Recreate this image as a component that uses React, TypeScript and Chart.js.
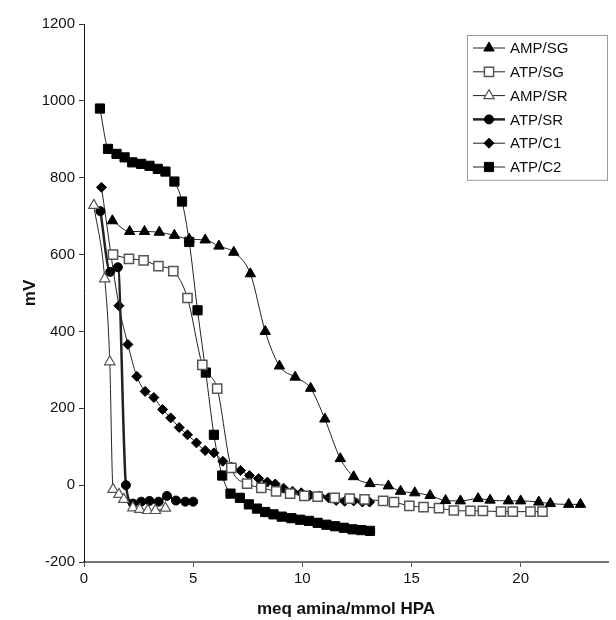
import React, { useEffect, useRef } from "react";
import { Chart, registerables } from "chart.js";

Chart.register(...registerables);

const xAMPSG = [1.3, 2.09, 2.77, 3.45, 4.14, 4.82, 5.55, 6.18, 6.86, 7.62, 8.3, 8.95, 9.67, 10.38, 11.03, 11.74, 12.35, 13.1, 13.94, 14.5, 15.15, 15.85, 16.56, 17.24, 18.05, 18.6, 19.44, 20.0, 20.83, 21.36, 22.2, 22.74];
const yAMPSG = [688, 660, 660, 658, 650, 640, 638, 622, 606, 550, 400, 310, 281, 252, 172, 69, 22, 4, -2, -16, -20, -27, -40, -41, -35, -39, -41, -41, -44, -48, -50, -50];

const xATPSG = [1.33, 2.06, 2.73, 3.41, 4.09, 4.74, 5.42, 6.1, 6.75, 7.47, 8.12, 8.8, 9.44, 10.09, 10.7, 11.48, 12.17, 12.85, 13.7, 14.2, 14.9, 15.55, 16.26, 16.94, 17.7, 18.27, 19.1, 19.64, 20.45, 21.0];
const yATPSG = [600, 589, 585, 570, 557, 487, 313, 251, 45, 4, -7, -16, -22, -28, -30, -33, -35, -37, -41, -44, -54, -57, -60, -66, -67, -67, -69, -69, -69, -69];

const xAMPSR = [0.45, 0.95, 1.18, 1.33, 1.6, 1.82, 2.24, 2.55, 2.92, 3.27, 3.73];
const yAMPSR = [728, 537, 321, -11, -24, -37, -59, -63, -66, -66, -60];

const xATPSR = [0.75, 1.2, 1.55, 1.92, 2.24, 2.62, 3.0, 3.42, 3.8, 4.21, 4.64, 5.0];
const yATPSR = [713, 555, 567, 0, -48, -43, -41, -43, -28, -40, -43, -43];

const xATPC1 = [0.8, 1.6, 2.01, 2.42, 2.8, 3.2, 3.6, 3.97, 4.36, 4.74, 5.15, 5.55, 5.95, 6.36, 6.76, 7.17, 7.58, 8.0, 8.4, 8.76, 9.14, 9.55, 9.95, 10.35, 10.8, 11.2, 11.55, 11.94, 12.35, 12.75, 13.08];
const yATPC1 = [775, 467, 366, 283, 244, 228, 197, 175, 150, 131, 110, 90, 84, 62, 47, 38, 25, 17, 8, 3, -8, -16, -20, -26, -28, -33, -40, -42, -41, -44, -44];

const xATPC2 = [0.73, 1.1, 1.49, 1.86, 2.21, 2.62, 3.0, 3.38, 3.73, 4.14, 4.49, 4.82, 5.2, 5.58, 5.95, 6.33, 6.71, 7.14, 7.55, 7.92, 8.3, 8.68, 9.06, 9.5, 9.9, 10.3, 10.7, 11.1, 11.5, 11.9, 12.3, 12.7, 13.1];
const yATPC2 = [980, 875, 862, 853, 840, 836, 831, 823, 816, 790, 738, 633, 455, 293, 131, 25, -22, -33, -50, -61, -70, -76, -82, -86, -90, -93, -98, -103, -107, -111, -115, -117, -119];

const seriesLabels = ["AMP/SG", "ATP/SG", "AMP/SR", "ATP/SR", "ATP/C1", "ATP/C2"];
const yTicks = [-200, 0, 200, 400, 600, 800, 1000, 1200];
const xTicks = [0, 5, 10, 15, 20];

const FONT = "'Liberation Sans', Arial, sans-serif";

function pts(xs: number[], ys: number[]) {
  return xs.map((x, i) => ({ x, y: ys[i] }));
}

type Marker = { shape: string; fill: string; stroke: string; r: number; lw: number };

const markers: Marker[] = [
  { shape: "triangle", fill: "#000", stroke: "#000", r: 6, lw: 1 },
  { shape: "rect", fill: "#fff", stroke: "#555", r: 6.5, lw: 1.5 },
  { shape: "triangle", fill: "#fff", stroke: "#555", r: 6, lw: 1.2 },
  { shape: "circle", fill: "#000", stroke: "#000", r: 4.5, lw: 1 },
  { shape: "rectRot", fill: "#000", stroke: "#000", r: 5, lw: 1 },
  { shape: "rect", fill: "#000", stroke: "#000", r: 6.5, lw: 1 },
];
const lineWidths = [1, 1, 1, 2.5, 1, 1];

function drawMarker(ctx: CanvasRenderingContext2D, m: Marker, x: number, y: number) {
  ctx.save();
  ctx.beginPath();
  const r = m.r;
  if (m.shape === "triangle") {
    ctx.moveTo(x, y - r);
    ctx.lineTo(x + r * 0.866, y + r * 0.5);
    ctx.lineTo(x - r * 0.866, y + r * 0.5);
    ctx.closePath();
  } else if (m.shape === "rect") {
    const s = r * Math.SQRT1_2;
    ctx.rect(x - s, y - s, 2 * s, 2 * s);
  } else if (m.shape === "rectRot") {
    ctx.moveTo(x, y - r);
    ctx.lineTo(x + r, y);
    ctx.lineTo(x, y + r);
    ctx.lineTo(x - r, y);
    ctx.closePath();
  } else {
    ctx.arc(x, y, r, 0, Math.PI * 2);
  }
  ctx.fillStyle = m.fill;
  ctx.fill();
  ctx.lineWidth = m.lw;
  ctx.strokeStyle = m.stroke;
  ctx.stroke();
  ctx.restore();
}

const legendPlugin = {
  id: "boxLegend",
  afterDraw(chart: any) {
    const ctx = chart.ctx as CanvasRenderingContext2D;
    const left = 467, top = 35, w = 140, rowH = 23.8;
    const n = chart.data.datasets.length;
    const h = n * rowH + 2;
    ctx.save();
    ctx.fillStyle = "#fff";
    ctx.fillRect(left, top, w, h);
    ctx.strokeStyle = "#999";
    ctx.lineWidth = 1;
    ctx.strokeRect(left + 0.5, top + 0.5, w, h);
    chart.data.datasets.forEach((ds: any, i: number) => {
      const y = top + 13 + i * rowH;
      ctx.beginPath();
      ctx.moveTo(left + 6, y);
      ctx.lineTo(left + 38, y);
      ctx.strokeStyle = "#222";
      ctx.lineWidth = lineWidths[i];
      ctx.stroke();
      drawMarker(ctx, markers[i], left + 22, y);
      ctx.fillStyle = "#111";
      ctx.font = `15px ${FONT}`;
      ctx.textBaseline = "middle";
      ctx.textAlign = "left";
      ctx.fillText(ds.label, left + 43, y + 1);
    });
    ctx.restore();
  },
};

export default function App() {
  const ref = useRef<HTMLCanvasElement>(null);
  useEffect(() => {
    if (!ref.current) return;
    const xs = [xAMPSG, xATPSG, xAMPSR, xATPSR, xATPC1, xATPC2];
    const ys = [yAMPSG, yATPSG, yAMPSR, yATPSR, yATPC1, yATPC2];
    const chart = new Chart(ref.current, {
      type: "line",
      data: {
        datasets: seriesLabels.map((label, i) => ({
          label,
          data: pts(xs[i], ys[i]),
          borderColor: "#222",
          borderWidth: lineWidths[i],
          backgroundColor: markers[i].fill,
          pointStyle: markers[i].shape,
          pointRadius: markers[i].r,
          pointBorderWidth: markers[i].lw,
          pointBorderColor: markers[i].stroke,
          pointBackgroundColor: markers[i].fill,
          cubicInterpolationMode: "monotone",
          fill: false,
        })),
      },
      options: {
        animation: false,
        responsive: false,
        maintainAspectRatio: false,
        layout: { padding: { left: 20, right: 0, top: 24, bottom: 0 } },
        plugins: { legend: { display: false }, tooltip: { enabled: false } },
        scales: {
          x: {
            type: "linear",
            min: 0,
            max: 24,
            afterBuildTicks: (s: any) => {
              s.ticks = xTicks.map((v) => ({ value: v }));
            },
            afterFit: (s: any) => {
              s.height = 58;
            },
            ticks: { includeBounds: false, color: "#111", font: { family: FONT, size: 15 }, padding: 3, maxRotation: 0, callback: (v: any) => String(v) },
            grid: { drawOnChartArea: false, drawTicks: true, tickLength: 5, color: "#555" },
            border: { display: true, color: "#777", width: 2 },
            title: { display: true, text: "meq amina/mmol HPA", color: "#111", font: { family: FONT, size: 17, weight: "bold" }, padding: { top: 2, bottom: 0 } },
          },
          y: {
            type: "linear",
            min: -200,
            max: 1200,
            afterBuildTicks: (s: any) => {
              s.ticks = yTicks.map((v) => ({ value: v }));
            },
            afterFit: (s: any) => {
              s.width = 64;
            },
            ticks: { color: "#111", font: { family: FONT, size: 15 }, padding: 4, callback: (v: any) => String(v) },
            grid: { drawOnChartArea: false, drawTicks: true, tickLength: 5, color: "#333" },
            border: { display: true, color: "#111", width: 1 },
            title: { display: true, text: "mV", color: "#111", font: { family: FONT, size: 17, weight: "bold" }, padding: { top: 0, bottom: 2 } },
          },
        },
      },
      plugins: [legendPlugin],
    } as any);
    return () => chart.destroy();
  }, []);
  return (
    <div style={{ position: "fixed", left: 0, top: 0, width: 616, height: 620, background: "#fff" }}>
      <canvas ref={ref} width={616} height={620} style={{ width: 616, height: 620 }} />
    </div>
  );
}
